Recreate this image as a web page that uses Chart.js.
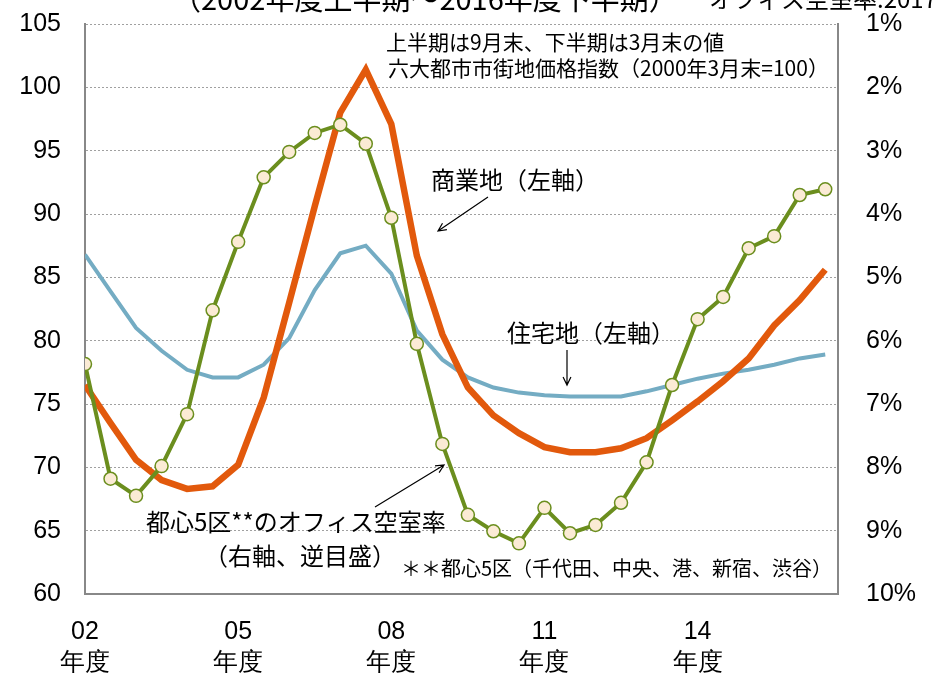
<!DOCTYPE html>
<html lang="ja">
<head>
    <meta charset="UTF-8">
    <title>地価とオフィス空室率</title>
    <style>
        body { margin: 0; background: #fff; }
        #wrap { width: 941px; height: 677px; }
    </style>
    <script src="https://cdn.jsdelivr.net/npm/chart.js"></script>
</head>
<body>
    <div id="wrap"><canvas id="landChart" width="941" height="677"></canvas></div>

    <script>
        // 半期ごと（2002年度上半期～2016年度下半期）
        const periods = [];
        for (let y = 2002; y <= 2016; y++) { periods.push(y + '上'); periods.push(y + '下'); }

        const xTickPos = [0, 6, 12, 18, 24];
        const xTickLabels = ['02', '05', '08', '11', '14'];

        // 六大都市市街地価格指数 商業地（左軸）
        const commercial = [76.5, 73.5, 70.6, 69.0, 68.3, 68.5, 70.2, 75.5, 83.0, 90.6,
                            98.0, 101.4, 97.1, 86.7, 80.5, 76.3, 74.1, 72.7, 71.6, 71.2,
                            71.2, 71.5, 72.3, 73.7, 75.2, 76.8, 78.6, 81.2, 83.2, 85.6];
        // 住宅地（左軸）
        const residential = [86.8, 83.9, 81.0, 79.2, 77.7, 77.1, 77.1, 78.1, 80.2, 84.0,
                             86.9, 87.5, 85.3, 80.8, 78.5, 77.1, 76.3, 75.9, 75.7, 75.6,
                             75.6, 75.6, 76.0, 76.5, 77.0, 77.4, 77.7, 78.1, 78.6, 78.9];
        // 都心5区のオフィス空室率（右軸、逆目盛）%
        const vacancy = [6.37, 8.18, 8.45, 7.98, 7.16, 5.52, 4.44, 3.42, 3.02, 2.72,
                         2.59, 2.89, 4.06, 6.05, 7.63, 8.75, 9.01, 9.20, 8.64, 9.04,
                         8.91, 8.56, 7.92, 6.70, 5.66, 5.31, 4.54, 4.35, 3.70, 3.61];

        const toXY = arr => arr.map((v, i) => ({ x: i, y: v }));

        const jp = '"Noto Sans CJK JP", "Noto Sans", sans-serif';
        const num = '"Liberation Sans", Arial, sans-serif';

        // 注記テキストと矢印
        const notesPlugin = {
            id: 'notes',
            afterDraw(chart) {
                const c = chart.ctx;
                c.save();
                c.fillStyle = '#000';
                c.textBaseline = 'alphabetic';
                c.textAlign = 'left';
                c.font = '29px ' + jp;
                c.fillText('（2002年度上半期～2016年度下半期）', 172, 10);
                c.font = '24px ' + jp;
                c.fillText('オフィス空室率:2017', 709, 8);

                c.textBaseline = 'middle';
                const texts = [
                    ['上半期は9月末、下半期は3月末の値', 386, 42, 21],
                    ['六大都市市街地価格指数（2000年3月末=100）', 388, 68, 21],
                    ['商業地（左軸）', 431, 180, 24],
                    ['住宅地（左軸）', 507, 333, 24],
                    ['都心5区**のオフィス空室率', 146, 522, 24],
                    ['（右軸、逆目盛）', 204, 556, 24],
                    ['＊＊都心5区（千代田、中央、港、新宿、渋谷）', 401, 568, 20]
                ];
                texts.forEach(([t, x, y, s]) => {
                    c.font = s + 'px ' + jp;
                    c.fillText(t, x, y);
                });

                const arrow = (x1, y1, x2, y2) => {
                    const a = Math.atan2(y2 - y1, x2 - x1);
                    c.beginPath();
                    c.moveTo(x1, y1);
                    c.lineTo(x2, y2);
                    c.moveTo(x2 - 9 * Math.cos(a - 0.45), y2 - 9 * Math.sin(a - 0.45));
                    c.lineTo(x2, y2);
                    c.lineTo(x2 - 9 * Math.cos(a + 0.45), y2 - 9 * Math.sin(a + 0.45));
                    c.strokeStyle = '#000';
                    c.lineWidth = 1.2;
                    c.stroke();
                };
                arrow(488, 197, 438, 231);
                arrow(567, 350, 567, 385);
                arrow(375, 507, 444, 465);
                c.restore();
            }
        };

        // 縦軸ラベルの自動余白を無効にしてプロット領域を固定
        const fitY = w => s => { s.width = w; s.paddingTop = 0; s.paddingBottom = 0; };

        const ctx = document.getElementById('landChart').getContext('2d');
        new Chart(ctx, {
            type: 'line',
            data: {
                datasets: [
                    {
                        label: '都心5区のオフィス空室率',
                        data: toXY(vacancy),
                        yAxisID: 'y1',
                        borderColor: '#6B8E1E',
                        borderWidth: 4,
                        pointRadius: 6.5,
                        pointBackgroundColor: '#FBEBD5',
                        pointBorderColor: '#6B8E1E',
                        pointBorderWidth: 1.5,
                        order: 0
                    },
                    {
                        label: '商業地',
                        data: toXY(commercial),
                        yAxisID: 'y',
                        borderColor: '#E2590C',
                        borderWidth: 6.5,
                        pointRadius: 0,
                        order: 1
                    },
                    {
                        label: '住宅地',
                        data: toXY(residential),
                        yAxisID: 'y',
                        borderColor: '#74ACC3',
                        borderWidth: 4,
                        pointRadius: 0,
                        order: 2
                    }
                ]
            },
            options: {
                responsive: false,
                animation: false,
                layout: { padding: { top: 24, left: 0, right: 0, bottom: 0 } },
                plugins: {
                    legend: { display: false },
                    tooltip: { enabled: false }
                },
                scales: {
                    x: {
                        type: 'linear',
                        min: 0,
                        max: 29.5,
                        afterBuildTicks: s => { s.ticks = xTickPos.map(v => ({ value: v })); },
                        afterFit: s => { s.height = 83; },
                        grid: { display: false, drawTicks: false },
                        border: { display: true, color: '#888', width: 2 },
                        ticks: {
                            padding: 22,
                            maxRotation: 0,
                            color: '#000',
                            font: { size: 25, family: num, lineHeight: 1.25 },
                            callback: v => {
                                const i = xTickPos.indexOf(v);
                                return i >= 0 ? [xTickLabels[i], '年度'] : '';
                            }
                        }
                    },
                    y: {
                        position: 'left',
                        min: 60,
                        max: 105,
                        afterFit: fitY(85),
                        grid: { color: '#a0a0a0', lineWidth: 1, drawTicks: false },
                        border: { display: true, color: '#888', width: 2, dash: [2, 2] },
                        ticks: {
                            stepSize: 5,
                            padding: 24,
                            color: '#000',
                            font: { size: 25, family: num }
                        }
                    },
                    y1: {
                        position: 'right',
                        reverse: true,
                        min: 1,
                        max: 10,
                        afterFit: fitY(103),
                        grid: { display: false, drawTicks: false },
                        border: { display: true, color: '#888', width: 2 },
                        ticks: {
                            stepSize: 1,
                            padding: 28,
                            color: '#000',
                            font: { size: 25, family: num },
                            callback: v => v + '%'
                        }
                    }
                }
            },
            plugins: [notesPlugin]
        });
    </script>
</body>
</html>
